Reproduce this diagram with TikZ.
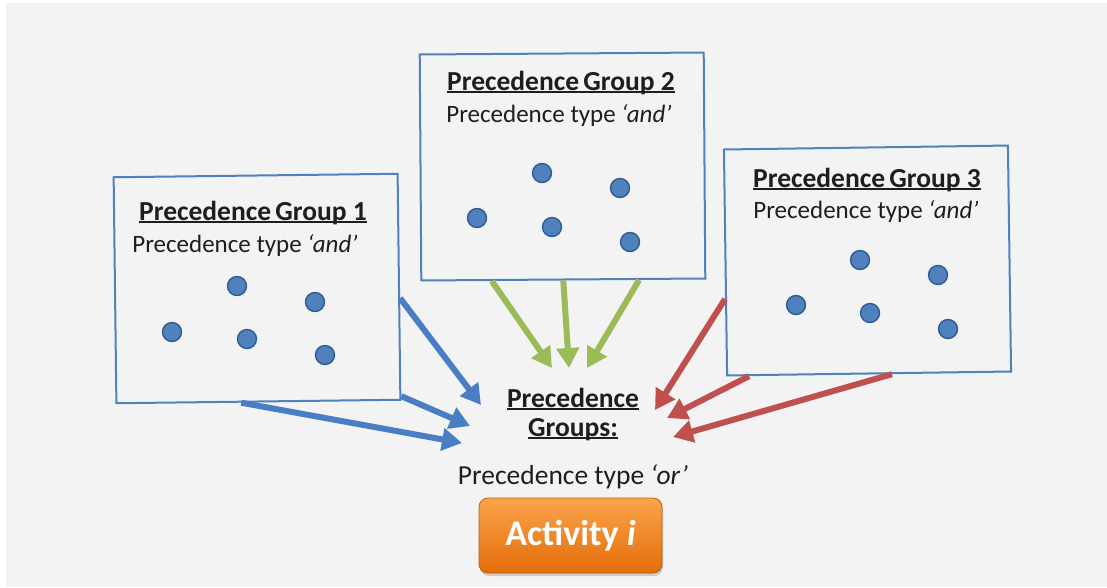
\documentclass[tikz,border=0pt]{standalone}
\usepackage{fontspec}
\setmainfont{Carlito}
\usetikzlibrary{arrows.meta,calc,shadows}

\definecolor{bgray}{HTML}{F3F3F3}
\definecolor{boxblue}{HTML}{4F81BD}
\definecolor{dotedge}{HTML}{2F5B94}
\definecolor{arrblue}{HTML}{4A7EC4}
\definecolor{arrgreen}{HTML}{9BBB59}
\definecolor{arrred}{HTML}{C0504D}
\definecolor{orangetop}{HTML}{FAA54A}
\definecolor{orangebot}{HTML}{E46C0A}
\definecolor{inktext}{HTML}{1E1E1E}

% underline drawn just below the baseline, crossing descenders
\newcommand{\ulbar}[1]{{\setbox0\hbox{#1}\rlap{\rule[-3pt]{\wd0}{2pt}}\box0}}

\tikzset{
  groupbox/.style={draw=boxblue, line width=2pt, fill=bgray, rectangle,
    inner sep=0pt, minimum width=284pt, minimum height=226pt},
  member/.style={circle, fill=boxblue, draw=dotedge, line width=1.4pt,
    minimum size=19pt, inner sep=0pt},
  titletext/.style={anchor=base, text=inktext, inner sep=0pt,
    font=\fontsize{27.5}{32}\selectfont\bfseries},
  typetext/.style={anchor=base, text=inktext, inner sep=0pt,
    font=\fontsize{25}{30}\selectfont},
  flow/.style={line width=6pt, -{Triangle[length=20pt,width=22pt]}},
  activity/.style={rounded corners=9pt, draw=orangebot!85!black, line width=0.8pt,
    top color=orangetop, bottom color=orangebot,
    minimum width=183pt, minimum height=75pt, inner sep=0pt,
    drop shadow={opacity=0.35, shadow xshift=1pt, shadow yshift=-3pt},
    text=white, font=\fontsize{36}{40}\selectfont\bfseries},
}

\begin{document}
\begin{tikzpicture}[x=1pt, y=-1pt]
  % canvas
  \fill[white] (0,0) rectangle (1107,587);
  \fill[bgray] (6,3) rectangle (1107,587);
  \useasboundingbox (0,0) rectangle (1107,587);

  % group boxes
  \node[groupbox, rotate=0.7] (g1) at (257,288.5) {};
  \node[groupbox, rotate=0.4] (g2) at (562.5,166.5) {};
  \node[groupbox, rotate=0.8] (g3) at (867.5,260.5) {};

  % group 1
  \node[titletext] (t1) at (253,220) {\ulbar{Precedence\kern-2pt\ Group 1}};
  \node[typetext] (s1) at (245,252) {Precedence type \textit{‘and’}};
  \node[member] (a1) at (237,286) {};
  \node[member] (a2) at (315,302) {};
  \node[member] (a3) at (172,332) {};
  \node[member] (a4) at (247,339) {};
  \node[member] (a5) at (325,355) {};

  % group 2
  \node[titletext] (t2) at (561,90) {\ulbar{Precedence\kern-2pt\ Group 2}};
  \node[typetext] (s2) at (559,122) {Precedence type \textit{‘and’}};
  \node[member] (b1) at (542,173) {};
  \node[member] (b2) at (620,188) {};
  \node[member] (b3) at (477,218) {};
  \node[member] (b4) at (552,227) {};
  \node[member] (b5) at (630,242) {};

  % group 3
  \node[titletext] (t3) at (867,187) {\ulbar{Precedence\kern-2pt\ Group 3}};
  \node[typetext] (s3) at (866,218) {Precedence type \textit{‘and’}};
  \node[member] (c1) at (860,260) {};
  \node[member] (c2) at (938,275) {};
  \node[member] (c3) at (796,305) {};
  \node[member] (c4) at (870,313) {};
  \node[member] (c5) at (948,329) {};

  % combined groups and the activity
  \node[titletext] (pg1) at (573,407) {\ulbar{Precedence}};
  \node[titletext] (pg2) at (573,436) {\ulbar{Groups:}};
  \node[typetext, font=\fontsize{27.5}{32}\selectfont] (por) at (573,484) {Precedence type \textit{‘or’}};
  \node[activity] (act) at (570.5,535.5) {Activity \textit{i}};

  % arrow heads end here
  \coordinate (eb1) at (481,405);
  \coordinate (eb2) at (470,426);
  \coordinate (eb3) at (462,443);
  \coordinate (eg1) at (552,368);
  \coordinate (eg2) at (569,368);
  \coordinate (eg3) at (587,368);
  \coordinate (er1) at (655,410);
  \coordinate (er2) at (667,418);
  \coordinate (er3) at (673,437);

  % group 1 -> combined
  \draw[flow, arrblue] ($(g1.north east)!0.55!(g1.south east)$) -- (eb1);
  \draw[flow, arrblue] ($(g1.north east)!0.98!(g1.south east)$) -- (eb2);
  \draw[flow, arrblue] ($(g1.south west)!0.44!(g1.south east)$) -- (eb3);
  % group 2 -> combined
  \draw[flow, arrgreen] ($(g2.south west)!0.25!(g2.south east)$) -- (eg1);
  \draw[flow, arrgreen] ($(g2.south west)!0.50!(g2.south east)$) -- (eg2);
  \draw[flow, arrgreen] ($(g2.south west)!0.765!(g2.south east)$) -- (eg3);
  % group 3 -> combined
  \draw[flow, arrred] ($(g3.north west)!0.66!(g3.south west)$) -- (er1);
  \draw[flow, arrred] ($(g3.south west)!0.08!(g3.south east)$) -- (er2);
  \draw[flow, arrred] ($(g3.south west)!0.58!(g3.south east)$) -- (er3);
\end{tikzpicture}
\end{document}
